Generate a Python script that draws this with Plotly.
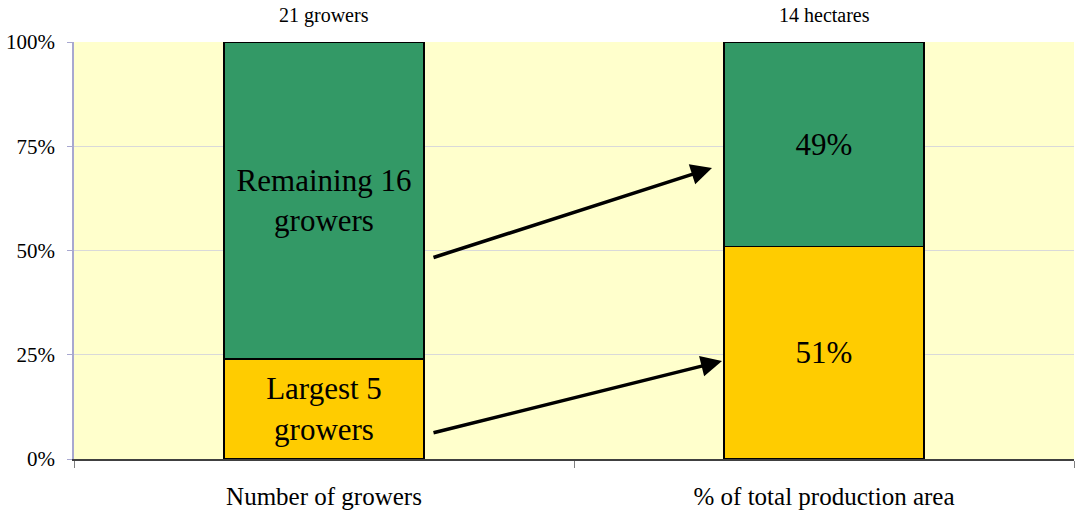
import plotly.graph_objects as go

categories = ["Number of growers", "% of total production area"]
top_labels = ["21 growers", "14 hectares"]
largest = [24, 51]
remaining = [76, 49]
largest_text = ["Largest 5<br>growers", "51%"]
remaining_text = ["Remaining 16<br>growers", "49%"]
y_ticks = [0, 25, 50, 75, 100]
y_tick_text = ["0%", "25%", "50%", "75%", "100%"]

font = "Liberation Serif, Times New Roman, serif"

fig = go.Figure()
fig.add_trace(go.Bar(
    x=categories, y=largest, text=largest_text,
    marker=dict(color="#FFCC00", line=dict(color="black", width=1.5)),
    textposition="inside", insidetextanchor="middle", constraintext="none",
    textfont=dict(size=31, color="black", family=font),
    hoverinfo="skip",
))
fig.add_trace(go.Bar(
    x=categories, y=remaining, text=remaining_text,
    marker=dict(color="#339966", line=dict(color="black", width=1.5)),
    textposition="inside", insidetextanchor="middle", constraintext="none",
    textfont=dict(size=31, color="black", family=font),
    hoverinfo="skip",
))

# labels above bars
for cat, lab in zip(categories, top_labels):
    fig.add_annotation(x=cat, y=1, yref="paper", text=lab, showarrow=False,
                       yanchor="middle", yshift=27,
                       font=dict(size=20, family=font, color="black"))

# arrows from first bar to second
arrows = [((0.216, 48.2), (0.776, 69.8)), ((0.216, 6.2), (0.796, 23.5))]
for (x0, y0), (x1, y1) in arrows:
    fig.add_annotation(x=x1, y=y1, ax=x0, ay=y0, xref="x", yref="y",
                       axref="x", ayref="y", text="", showarrow=True,
                       arrowhead=2, arrowsize=1.2, arrowwidth=3.5,
                       arrowcolor="black")

fig.update_layout(
    barmode="stack", bargap=0.6,
    width=1075, height=511,
    margin=dict(l=74, r=1, t=42, b=52),
    plot_bgcolor="#FFFFCC", paper_bgcolor="white",
    showlegend=False,
    font=dict(family=font, color="black"),
)
fig.update_xaxes(
    showline=True, linecolor="#404040", linewidth=1.5,
    ticks="outside", tickson="boundaries", ticklen=7, tickcolor="#808080",
    tickfont=dict(size=25, family=font), ticklabelstandoff=14,
    showgrid=False, automargin=False,
)
fig.update_yaxes(
    range=[0, 100], tickvals=y_ticks, ticktext=y_tick_text,
    showline=True, linecolor="#A8A8D0", linewidth=1.5,
    ticks="outside", ticklen=5, tickcolor="#A8A8D0",
    tickfont=dict(size=21, family=font), ticklabelstandoff=8,
    showgrid=True, gridcolor="#D9D9D9", gridwidth=1, zeroline=False,
    automargin=False,
)

fig.write_html("out.html", config={"displayModeBar": False},
               post_script="document.body.style.margin='0';")
